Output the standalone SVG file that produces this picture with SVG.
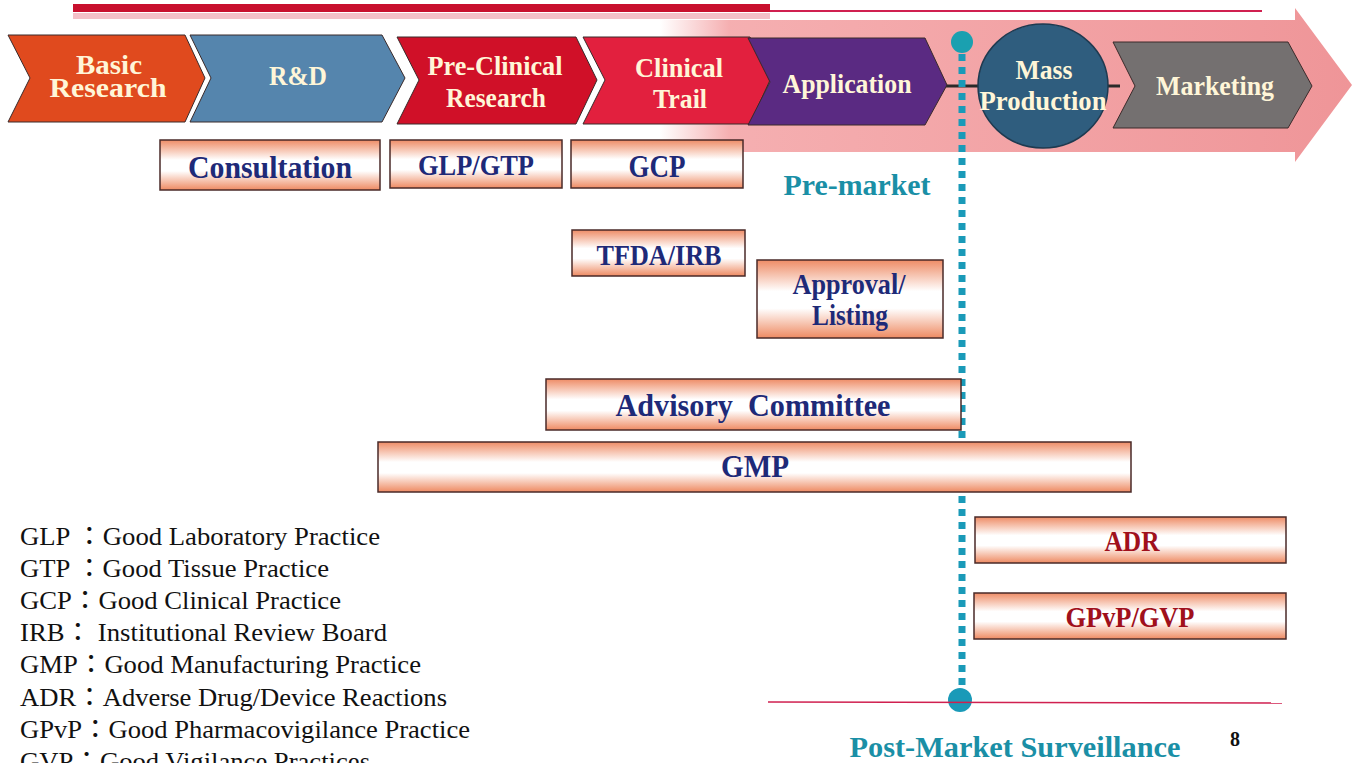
<svg xmlns="http://www.w3.org/2000/svg" width="1353" height="763" viewBox="0 0 1353 763">
<defs>
<linearGradient id="box" x1="0" y1="0" x2="0" y2="1">
<stop offset="0" stop-color="#ee8c66"/>
<stop offset="0.4" stop-color="#ffffff"/>
<stop offset="0.62" stop-color="#ffffff"/>
<stop offset="1" stop-color="#ee8a62"/>
</linearGradient>
<linearGradient id="pink" x1="0" y1="0" x2="1" y2="0">
<stop offset="0" stop-color="#f4a6a8" stop-opacity="0"/>
<stop offset="0.1" stop-color="#f4a6a8" stop-opacity="0.9"/>
<stop offset="1" stop-color="#ef9598"/>
</linearGradient>
<style>
.box{fill:url(#box);stroke:#4a2a28;stroke-width:1.5}
.bt{font-family:"Liberation Serif",serif;font-weight:bold;fill:#1e2a78;text-anchor:middle}
.rt{font-family:"Liberation Serif",serif;font-weight:bold;fill:#a0101c;text-anchor:middle}
.ct{font-family:"Liberation Serif",serif;font-weight:bold;fill:#fff6d8;text-anchor:middle;font-size:27px}
.chev{stroke:#3a2a2a;stroke-width:1}
.leg{font-family:"Liberation Serif","Noto Sans CJK TC",serif;font-size:26px;fill:#111}
.teal{font-family:"Liberation Serif",serif;font-weight:bold;fill:#1a8fa6;text-anchor:middle;font-size:29px}
</style>
</defs>
<rect width="1353" height="763" fill="#ffffff"/>
<!-- top bars -->
<rect x="73" y="4" width="697" height="8" fill="#c8102e"/>
<rect x="73" y="13" width="697" height="6" fill="#f4c0c8"/>
<line x1="770" y1="11" x2="1262" y2="11" stroke="#d02050" stroke-width="2"/>
<!-- big pink arrow -->
<polygon points="660,20 1295,20 1295,8 1352,85 1295,162 1295,152 660,152" fill="url(#pink)"/>
<g id="connectors">
<line x1="940" y1="86" x2="1120" y2="86" stroke="#2a2a2a" stroke-width="3"/>
<line x1="962" y1="54" x2="962" y2="690" stroke="#1a9ab8" stroke-width="7" stroke-dasharray="7,6"/>
<circle cx="962" cy="42" r="11" fill="#1aa0b0"/>
<circle cx="960" cy="700" r="12" fill="#1a9ab8"/>
<line x1="768" y1="702" x2="1282" y2="703" stroke="#d02050" stroke-width="1.5"/>
</g>
<g id="basic-research">
<polygon class="chev" points="8,35 185,35 205,78 185,122 8,122 30,78" fill="#e04a1e"/>
<text class="ct" x="109" y="74" font-size="25" textLength="66" lengthAdjust="spacingAndGlyphs">Basic</text>
<text class="ct" x="108" y="97" font-size="25" textLength="117" lengthAdjust="spacingAndGlyphs">Research</text>
</g>
<g id="rnd">
<polygon class="chev" points="190,35 382,35 405,78 382,122 190,122 211,78" fill="#5585ad"/>
<text class="ct" x="298" y="85" textLength="58" lengthAdjust="spacingAndGlyphs">R&amp;D</text>
</g>
<g id="pre-clinical">
<polygon class="chev" points="397,37 576,37 597,80 576,124 397,124 419,80" fill="#d01028"/>
<text class="ct" x="495" y="75" textLength="135" lengthAdjust="spacingAndGlyphs">Pre-Clinical</text>
<text class="ct" x="496" y="107" textLength="100" lengthAdjust="spacingAndGlyphs">Research</text>
</g>
<g id="clinical-trail">
<polygon class="chev" points="583,37 750,37 770,80 750,124 583,124 605,80" fill="#e2203e"/>
<text class="ct" x="679" y="77" textLength="88" lengthAdjust="spacingAndGlyphs">Clinical</text>
<text class="ct" x="680" y="108" textLength="54" lengthAdjust="spacingAndGlyphs">Trail</text>
</g>
<g id="application">
<polygon class="chev" points="748,38 925,38 947,85 925,125 748,125 770,82" fill="#5a2a82"/>
<text class="ct" x="847" y="93" textLength="129" lengthAdjust="spacingAndGlyphs">Application</text>
</g>
<g id="mass-production">
<ellipse cx="1043" cy="86" rx="65" ry="62" fill="#2f5d7e" stroke="#1e3a50" stroke-width="1.5"/>
<text class="ct" x="1044" y="79" textLength="57" lengthAdjust="spacingAndGlyphs">Mass</text>
<text class="ct" x="1043" y="110" textLength="127" lengthAdjust="spacingAndGlyphs">Production</text>
</g>
<g id="marketing">
<polygon class="chev" points="1113,42 1288,42 1312,86 1288,128 1113,128 1135,86" fill="#747070"/>
<text class="ct" x="1215" y="95" textLength="118" lengthAdjust="spacingAndGlyphs">Marketing</text>
</g>
<g id="consultation"><rect class="box" x="160" y="140" width="220" height="50"/><text class="bt" x="270" y="178" font-size="32" textLength="164" lengthAdjust="spacingAndGlyphs">Consultation</text></g>
<g id="glp-gtp"><rect class="box" x="390" y="140" width="172" height="48"/><text class="bt" x="476" y="175" font-size="30" textLength="116" lengthAdjust="spacingAndGlyphs">GLP/GTP</text></g>
<g id="gcp"><rect class="box" x="571" y="140" width="172" height="48"/><text class="bt" x="657" y="177" font-size="31" textLength="57" lengthAdjust="spacingAndGlyphs">GCP</text></g>
<text class="teal" x="857" y="195" textLength="147" lengthAdjust="spacingAndGlyphs">Pre-market</text>
<g id="tfda-irb"><rect class="box" x="572" y="230" width="173" height="46"/><text class="bt" x="659" y="265" font-size="30" textLength="125" lengthAdjust="spacingAndGlyphs">TFDA/IRB</text></g>
<g id="approval"><rect class="box" x="757" y="260" width="186" height="78"/><text class="bt" x="849" y="294" font-size="30" textLength="113" lengthAdjust="spacingAndGlyphs">Approval/</text><text class="bt" x="850" y="325" font-size="30" textLength="76" lengthAdjust="spacingAndGlyphs">Listing</text></g>
<g id="advisory"><rect class="box" x="546" y="379" width="415" height="51"/><text class="bt" x="753" y="416" font-size="32" textLength="275" lengthAdjust="spacingAndGlyphs" xml:space="preserve">Advisory  Committee</text></g>
<g id="gmp"><rect class="box" x="378" y="442" width="753" height="50"/><text class="bt" x="755" y="477" font-size="32" textLength="68" lengthAdjust="spacingAndGlyphs">GMP</text></g>
<g id="adr"><rect class="box" x="975" y="517" width="311" height="46"/><text class="rt" x="1132" y="551" font-size="30" textLength="55" lengthAdjust="spacingAndGlyphs">ADR</text></g>
<g id="gpvp"><rect class="box" x="974" y="593" width="312" height="46"/><text class="rt" x="1130" y="627" font-size="30" textLength="129" lengthAdjust="spacingAndGlyphs">GPvP/GVP</text></g>
<text class="teal" x="1015" y="757" textLength="331" lengthAdjust="spacingAndGlyphs">Post-Market Surveillance</text>
<text x="1235" y="746" font-family="Liberation Serif,serif" font-weight="bold" font-size="20" fill="#111" text-anchor="middle">8</text>
<g id="legend">
<text class="leg" x="20" y="545" textLength="360" lengthAdjust="spacingAndGlyphs">GLP ：Good Laboratory Practice</text>
<text class="leg" x="20" y="577" textLength="309" lengthAdjust="spacingAndGlyphs">GTP ：Good Tissue Practice</text>
<text class="leg" x="20" y="609" textLength="321" lengthAdjust="spacingAndGlyphs">GCP：Good Clinical Practice</text>
<text class="leg" x="20" y="641" textLength="367" lengthAdjust="spacingAndGlyphs">IRB： Institutional Review Board</text>
<text class="leg" x="20" y="673" textLength="401" lengthAdjust="spacingAndGlyphs">GMP：Good Manufacturing Practice</text>
<text class="leg" x="20" y="706" textLength="427" lengthAdjust="spacingAndGlyphs">ADR：Adverse Drug/Device Reactions</text>
<text class="leg" x="20" y="738" textLength="450" lengthAdjust="spacingAndGlyphs">GPvP：Good Pharmacovigilance Practice</text>
<text class="leg" x="20" y="770" textLength="350" lengthAdjust="spacingAndGlyphs">GVP：Good Vigilance Practices</text>
</g>
</svg>
